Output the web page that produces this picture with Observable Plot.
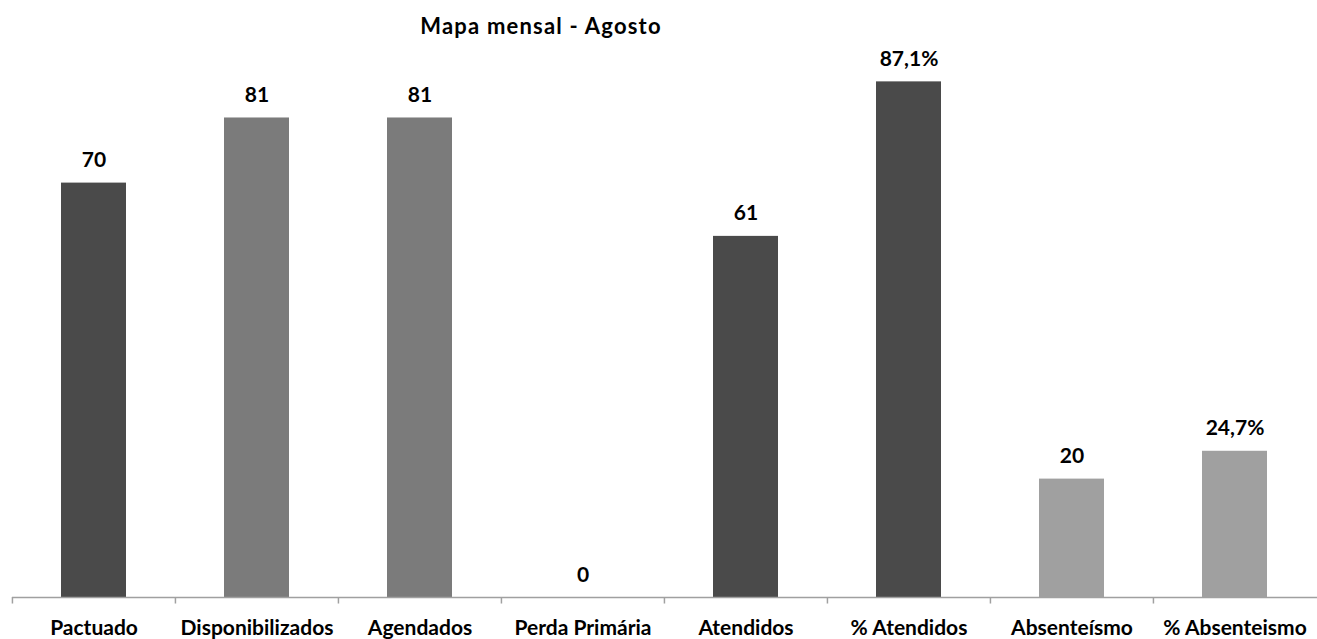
<!DOCTYPE html>
<html>
<head>
<meta charset="utf-8">
<script src="https://cdn.jsdelivr.net/npm/d3@7"></script>
<script src="https://cdn.jsdelivr.net/npm/@observablehq/plot@0.6"></script>
<style>
  html, body { margin: 0; padding: 0; background: #fff; }
  #wrap { position: relative; width: 1317px; height: 639px; font-family: Lato, "Open Sans", sans-serif; }
  #title { position: absolute; top: 15px; left: 541px; transform: translateX(-50%); font-size: 22px; letter-spacing: 1.2px; font-weight: bold; color: #000; white-space: nowrap; line-height: 1; }
</style>
</head>
<body>
<div id="wrap">
  <div id="title">Mapa mensal - Agosto</div>
  <div id="chart"></div>
</div>
<script>
const categories = ["Pactuado", "Disponibilizados", "Agendados", "Perda Primária", "Atendidos", "% Atendidos", "Absenteísmo", "% Absenteismo"];
const values = [70, 81, 81, 0, 61, 87.1, 20, 24.7];
const labels = ["70", "81", "81", "0", "61", "87,1%", "20", "24,7%"];
const colors = ["#4a4a4a", "#7b7b7b", "#7b7b7b", "#4a4a4a", "#4a4a4a", "#4a4a4a", "#a0a0a0", "#a0a0a0"];

const data = categories.map((c, i) => ({cat: c, value: values[i], label: labels[i], color: colors[i]}));

const W = 1317, H = 639, mL = 12, mR = 0;
const bw = (W - mL - mR) / categories.length;

const chart = Plot.plot({
  width: W,
  height: H,
  marginLeft: mL,
  marginRight: mR,
  marginTop: 5,
  marginBottom: 42,
  style: {fontFamily: "Lato, 'Open Sans', sans-serif", background: "#fff"},
  x: {domain: categories, paddingInner: 0.6, paddingOuter: 0.3, label: null},
  y: {domain: [0, 100], axis: null},
  marks: [
    Plot.barY(data, {x: "cat", y: "value", fill: "color"}),
    Plot.ruleY([0], {stroke: "#a0a0a0", strokeWidth: 1.5}),
    Plot.ruleX(categories, {x: d => d, dx: -bw / 2, y1: 0, y2: -1.1, stroke: "#a0a0a0", strokeWidth: 1.5}),
    Plot.text(data, {x: "cat", y: "value", text: "label", lineAnchor: "bottom", dy: -16, fontSize: 21, fontWeight: "bold", fill: "#000"}),
    Plot.axisX({tickSize: 0, tickPadding: 23, fontSize: 21, fontWeight: "bold", fill: "#000", label: null})
  ]
});
document.getElementById("chart").appendChild(chart);
</script>
</body>
</html>
